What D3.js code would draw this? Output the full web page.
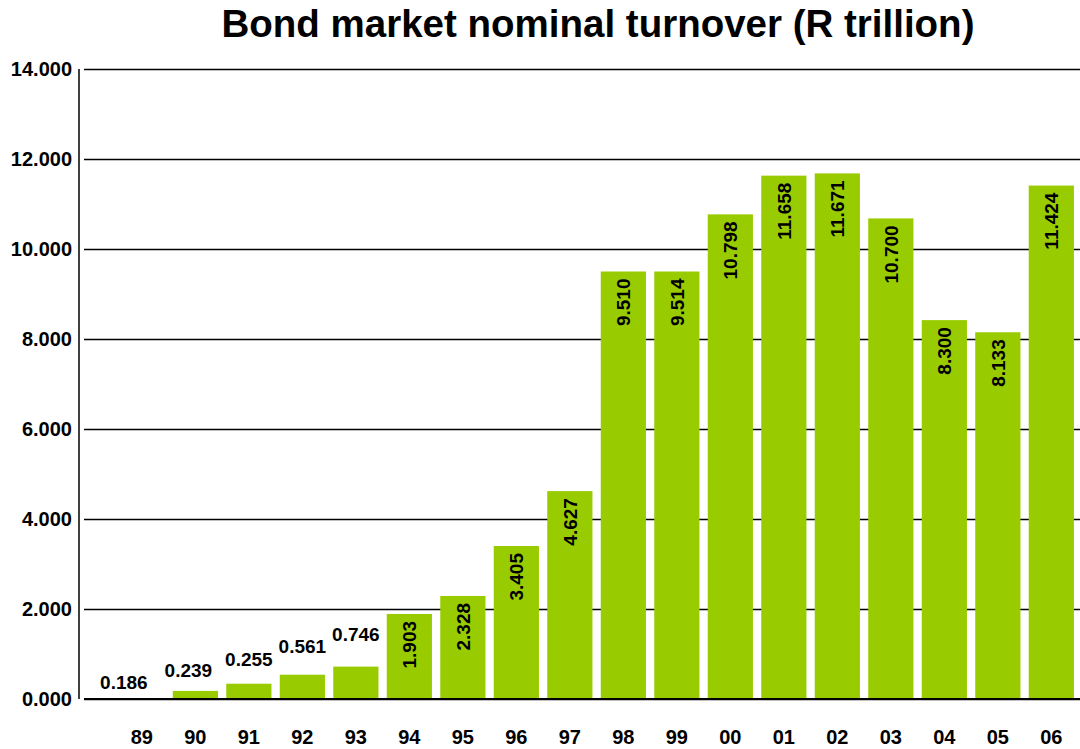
<!DOCTYPE html>
<html>
<head>
<meta charset="utf-8">
<script src="https://cdn.jsdelivr.net/npm/d3@7"></script>
<style>
  body { margin: 0; background: #fff; }
  svg { display: block; font-family: "Liberation Sans", Arial, sans-serif; }
</style>
</head>
<body>
<div id="container"></div>
<script>
// years on the x axis
let years = ["89", "90", "91", "92", "93", "94", "95", "96", "97", "98", "99", "00", "01", "02", "03", "04", "05", "06"];
// bar heights as drawn in the picture
let heights = [0, 0.18, 0.34, 0.54, 0.72, 1.89, 2.29, 3.40, 4.62, 9.50, 9.50, 10.77, 11.63, 11.68, 10.68, 8.42, 8.15, 11.41];
// printed value labels
let labels = ["0.186", "0.239", "0.255", "0.561", "0.746", "1.903", "2.328", "3.405", "4.627", "9.510", "9.514", "10.798", "11.658", "11.671", "10.700", "8.300", "8.133", "11.424"];
let yTicks = [0, 2, 4, 6, 8, 10, 12, 14];

let w = 1080;
let h = 749;
let margin = { top: 69, right: 0, bottom: 50, left: 82 };

let svg = d3.select("#container")
  .append("svg")
  .attr("width", w)
  .attr("height", h);

let xScale = d3.scaleBand()
  .domain(years)
  .range([margin.left, w - margin.right])
  .paddingInner(0.155)
  .paddingOuter(0.405)
  .align(0.86);

let yScale = d3.scaleLinear()
  .domain([0, 14])
  .range([h - margin.bottom, margin.top]);

// title
svg.append("text")
  .attr("x", 598)
  .attr("y", 37)
  .attr("text-anchor", "middle")
  .style("font-size", "38.5px")
  .style("font-weight", "bold")
  .text("Bond market nominal turnover (R trillion)");

// gridlines + y labels
let yAxis = d3.axisLeft(yScale)
  .tickValues(yTicks)
  .tickSize(-(w - 84))
  .tickPadding(12)
  .tickFormat(d3.format(".3f"));

let gy = svg.append("g")
  .attr("transform", "translate(84,0)")
  .call(yAxis);
gy.select(".domain").remove();
gy.selectAll(".tick line").attr("stroke", "#000").attr("stroke-width", 1.6);
gy.selectAll(".tick text")
  .attr("x", -12)
  .attr("fill", "#000")
  .style("font-size", "20px")
  .style("font-weight", "bold");

// vertical axis line
svg.append("line")
  .attr("x1", 79).attr("x2", 79)
  .attr("y1", yScale(14)).attr("y2", yScale(0))
  .attr("stroke", "#000")
  .attr("stroke-width", 1.5);

// bars
svg.selectAll("rect.bar")
  .data(years)
  .enter()
  .append("rect")
  .attr("class", "bar")
  .attr("x", d => xScale(d))
  .attr("width", xScale.bandwidth())
  .attr("y", (d, i) => yScale(heights[i]))
  .attr("height", (d, i) => yScale(0) - yScale(heights[i]))
  .attr("fill", "#99CC00");

// baseline on top of bars
svg.append("line")
  .attr("x1", 84).attr("x2", w)
  .attr("y1", yScale(0)).attr("y2", yScale(0))
  .attr("stroke", "#000")
  .attr("stroke-width", 2);

// value labels: small ones above, the rest rotated inside
years.forEach(function (d, i) {
  let cx = xScale(d) + xScale.bandwidth() / 2;
  if (heights[i] < 1) {
    svg.append("text")
      .attr("x", cx - (i == 0 ? 18 : i == 1 ? 7 : 0))
      .attr("y", yScale(heights[i]) - 10 - i * 4)
      .attr("text-anchor", "middle")
      .style("font-size", "19px")
      .style("font-weight", "bold")
      .text(labels[i]);
  } else {
    svg.append("text")
      .attr("transform", "translate(" + (cx + 7) + "," + (yScale(heights[i]) + 7) + ") rotate(-90)")
      .attr("text-anchor", "end")
      .style("font-size", "19px")
      .style("font-weight", "bold")
      .text(labels[i]);
  }
});

// category labels
svg.selectAll("text.year")
  .data(years)
  .enter()
  .append("text")
  .attr("class", "year")
  .attr("x", d => xScale(d) + xScale.bandwidth() / 2)
  .attr("y", 744)
  .attr("text-anchor", "middle")
  .style("font-size", "20px")
  .style("font-weight", "bold")
  .text(d => d);
</script>
</body>
</html>
